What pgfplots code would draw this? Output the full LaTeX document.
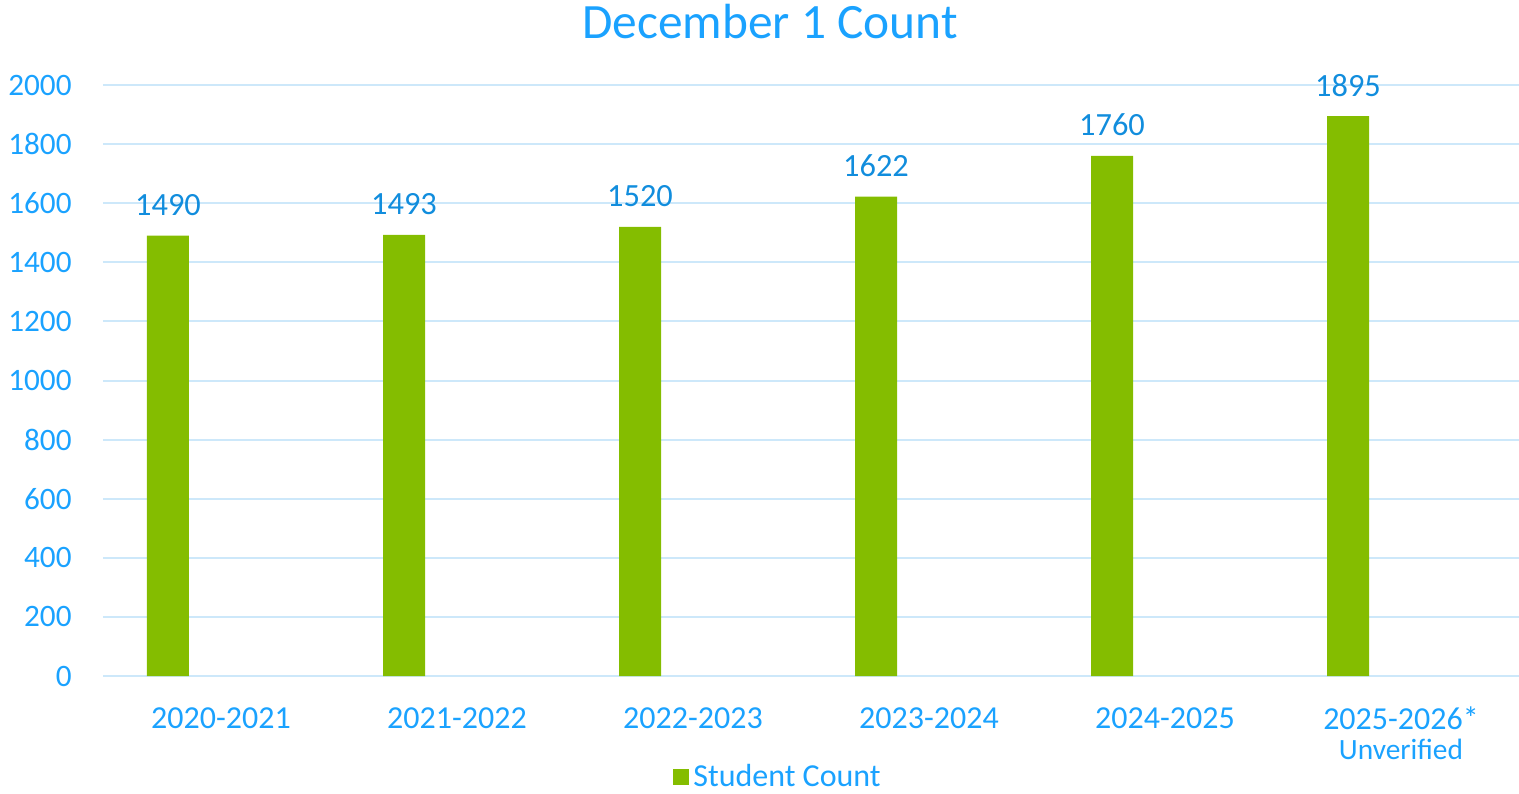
\documentclass[border=0pt]{standalone}
\usepackage{fontspec}
\setmainfont{Carlito}
\usepackage{pgfplots}
\pgfplotsset{compat=1.18}
\definecolor{txtblue}{HTML}{1AA2FF}
\definecolor{lblblue}{HTML}{118DDD}
\definecolor{bargreen}{HTML}{84BD00}
\definecolor{gridblue}{HTML}{CDE8FA}
\begin{document}
\begin{tikzpicture}
\useasboundingbox (-51.5pt,-58.5pt) rectangle (708pt,338pt);
\begin{axis}[
  at={(0pt,0pt)}, anchor=south west,
  scale only axis, width=708pt, height=295.5pt,
  xmin=-0.5, xmax=5.5, ymin=0, ymax=2000,
  axis line style={draw=none},
  major tick length=0pt,
  ytick={0,200,...,2000},
  ymajorgrids, grid style={gridblue, line width=1pt},
  xtick={0,1,2,3,4,5},
  xticklabels={2020-2021,2021-2022,2022-2023,2023-2024,2024-2025,{2025-2026\smash{*}\\{\fontsize{14.7}{15}\selectfont Unverified}}},
  xticklabel style={align=center, anchor=north, yshift=-15.5pt, inner sep=0pt, font=\fontsize{16}{15}\selectfont, text=txtblue},
  yticklabel style={anchor=east, inner sep=0pt, xshift=-15.5pt, font=\fontsize{15.6}{15}\selectfont, text=txtblue},
  /pgf/number format/assume math mode=true,
  /pgf/number format/set thousands separator={},
  ybar, bar width=21pt, bar shift=-26.5pt,
  nodes near coords,
  every node near coord/.append style={anchor=base, yshift=10pt, inner sep=0pt, font=\fontsize{16.2}{15}\selectfont, text=lblblue, /pgf/number format/assume math mode=true},
  title={December 1 Count},
  title style={at={(0.471,1.059)}, anchor=base, inner sep=0pt, font=\fontsize{24.7}{25}\selectfont, text=txtblue},
  legend style={at={(0.4018,-0.171)}, anchor=west, draw=none, fill=none, inner sep=0.5pt, font=\fontsize{16}{16}\selectfont, text=txtblue},
  legend image code/.code={\fill[bargreen] (-2pt,-4pt) rectangle (6pt,4pt);},
]
\addplot[fill=bargreen, draw=none] coordinates {(0,1490) (1,1493) (2,1520) (3,1622) (4,1760) (5,1895)};
\addlegendentry{Student Count}
\end{axis}
\end{tikzpicture}
\end{document}
